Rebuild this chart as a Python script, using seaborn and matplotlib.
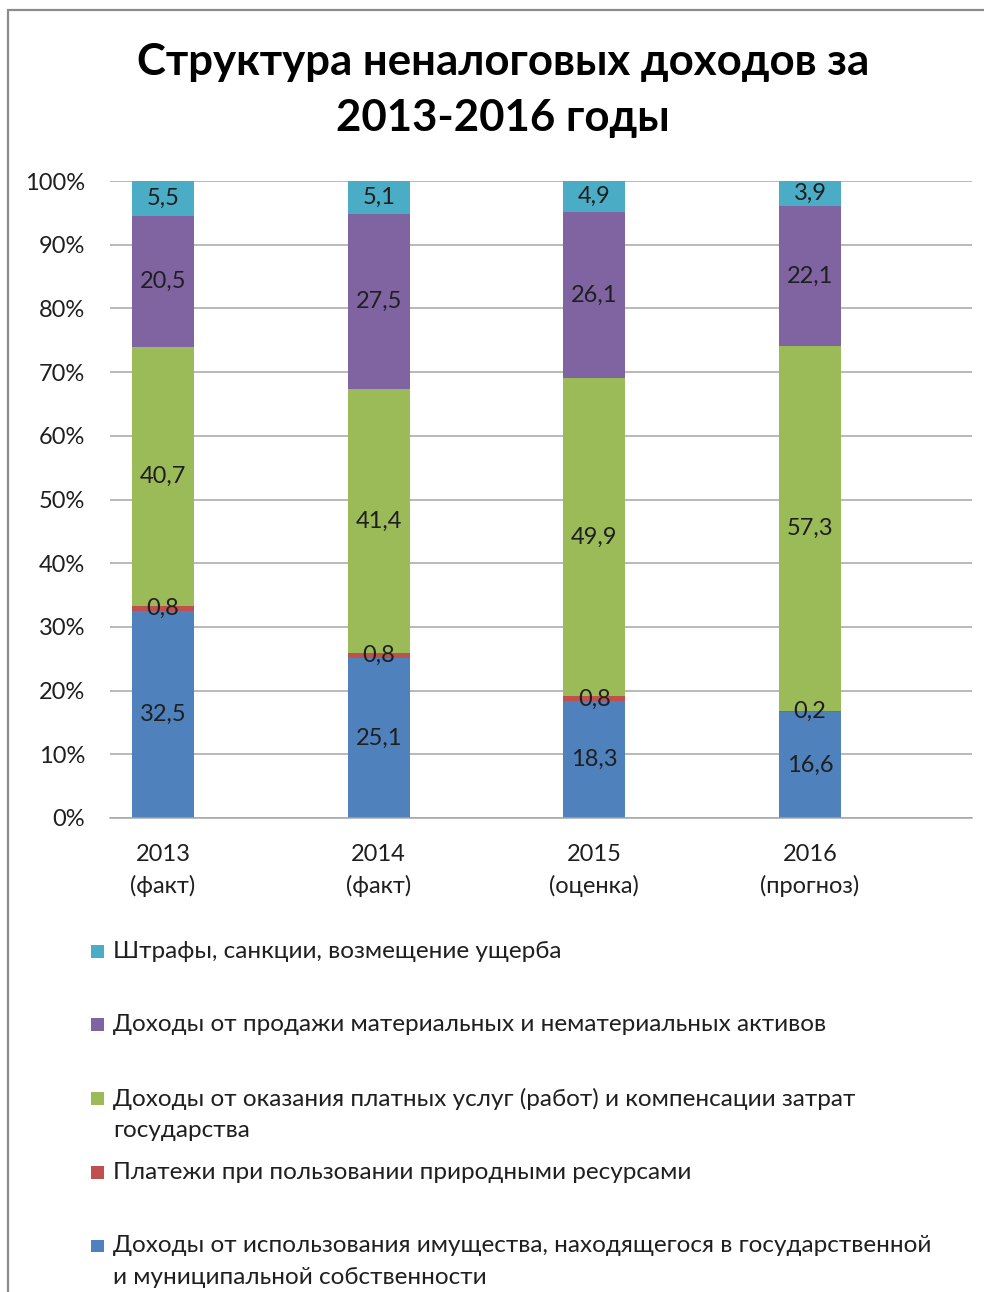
import numpy as np
import pandas as pd
import matplotlib
matplotlib.use("Agg")
import matplotlib.pyplot as plt
import seaborn as sns
from matplotlib.patches import Rectangle
from matplotlib.legend_handler import HandlerPatch
from matplotlib.ticker import FuncFormatter, MultipleLocator

# ---------------- data ----------------
categories = ["2013\n(факт)", "2014\n(факт)", "2015\n(оценка)", "2016\n(прогноз)"]

name_imushchestvo = "Доходы от использования имущества, находящегося в государственной\nи муниципальной собственности"
name_platezhi = "Платежи при пользовании природными ресурсами"
name_uslugi = "Доходы от оказания платных услуг (работ) и компенсации затрат\nгосударства"
name_prodazha = "Доходы от продажи материальных и нематериальных активов"
name_shtrafy = "Штрафы, санкции, возмещение ущерба"

imushchestvo = [32.5, 25.1, 18.3, 16.6]
platezhi = [0.8, 0.8, 0.8, 0.2]
uslugi = [40.7, 41.4, 49.9, 57.3]
prodazha = [20.5, 27.5, 26.1, 22.1]
shtrafy = [5.5, 5.1, 4.9, 3.9]

series_names = [name_imushchestvo, name_platezhi, name_uslugi, name_prodazha, name_shtrafy]
series_values = [imushchestvo, platezhi, uslugi, prodazha, shtrafy]
colors = ["#4F81BD", "#C0504D", "#9BBB59", "#8064A2", "#4BACC6"]

title = "Структура неналоговых доходов за\n2013-2016 годы"

# ---------------- style ----------------
sns.set_style("white")
plt.rcParams["font.family"] = ["Lato", "DejaVu Sans"]
TXT = "#1F1F1F"
GRID = "#A6A6A6"

W, H = 984, 1292
fig = plt.figure(figsize=(W / 100, H / 100), dpi=100)
ax = fig.add_axes([110 / W, 1 - 818 / H, (972 - 110) / W, (818 - 181) / H])

totals = np.sum(np.array(series_values), axis=0)
bottom = np.zeros(len(categories))
for name, vals, col in zip(series_names, series_values, colors):
    vals = np.array(vals, dtype=float)
    pct = vals / totals * 100.0
    sns.barplot(x=categories, y=pct, order=categories, bottom=bottom, color=col,
                saturation=1, width=0.287, errorbar=None, linewidth=0, ax=ax)
    ax.bar_label(ax.containers[-1],
                 labels=[f"{v:.1f}".replace(".", ",") for v in vals],
                 label_type="center", fontsize=17, color=TXT)
    bottom = bottom + pct

ax.set_ylim(0, 100)
ax.set_xlim(-0.2457, 3.751)
ax.yaxis.set_major_locator(MultipleLocator(10))
ax.yaxis.set_major_formatter(FuncFormatter(lambda y, p: f"{int(round(y))}%"))
ax.set_xlabel("")
ax.set_ylabel("")
ax.grid(axis="y", color=GRID, linewidth=1.1)
ax.grid(axis="x", visible=False)
ax.set_axisbelow(True)
for s in ["left", "right", "top"]:
    ax.spines[s].set_visible(False)
ax.spines["bottom"].set_color(GRID)
ax.spines["bottom"].set_linewidth(1.1)
ax.tick_params(axis="both", length=0, labelsize=17, labelcolor=TXT)
ax.tick_params(axis="y", pad=18)
ax.tick_params(axis="x", pad=19)
for t in ax.get_xticklabels():
    t.set_linespacing(1.5)

# title
fig.text(503 / W, 1 - 90 / H, title, ha="center", va="center", fontsize=31.5,
         fontweight="bold", color="black", linespacing=1.5)

# frame around chart area
fig.patches.append(Rectangle((8 / W, -0.1), 1.2, 1 - 10 / H + 0.1, transform=fig.transFigure,
                             fill=False, edgecolor="#8C8C8C", linewidth=1.6, zorder=0))

# legend (reversed order, each entry occupies a two-line slot)
SHIFT = 11.3
SQ = 9.0


def square_patch(legend, orig_handle, xdescent, ydescent, width, height, fontsize):
    return Rectangle((-xdescent + (width - SQ) / 2, -ydescent + (height - SQ) / 2 + SHIFT), SQ, SQ)


handles = []
labels = []
for name, col in list(zip(series_names, colors))[::-1]:
    handles.append(Rectangle((0, 0), 1, 1, facecolor=col, edgecolor="none"))
    labels.append(name if "\n" in name else name + "\n")

leg = fig.legend(handles, labels, loc="upper left", bbox_to_anchor=(91 / W, 1 - 941 / H),
                 frameon=False, fontsize=17.5, handlelength=0.55, handleheight=0.55,
                 handletextpad=0.35, labelspacing=0.87, borderpad=0, borderaxespad=0,
                 handler_map={Rectangle: HandlerPatch(patch_func=square_patch)})
for t in leg.get_texts():
    t.set_color(TXT)
    t.set_linespacing(1.6)

fig.savefig("out.png", dpi=100)
